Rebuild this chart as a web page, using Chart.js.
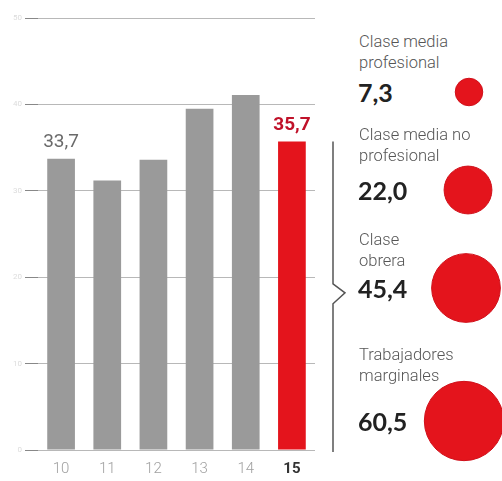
<!DOCTYPE html>
<html>
<head>
<meta charset="utf-8">
<script src="https://cdn.jsdelivr.net/npm/chart.js@4/dist/chart.umd.min.js"></script>
<style>
    html, body { margin: 0; padding: 0; background: #fff; }
    body { width: 502px; height: 481px; position: relative; overflow: hidden; font-family: Roboto, sans-serif; }
    #main { position: absolute; left: 0; top: 0; }
    .label { position: absolute; left: 359px; font-size: 16.5px; font-weight: 300; line-height: 21px; color: #555; white-space: nowrap; }
    .value { position: absolute; left: 358px; font-family: Lato, sans-serif; font-weight: 700; font-size: 25px; line-height: 28px; color: #222; }
    .circle { position: absolute; width: 90px; height: 90px; }
</style>
</head>
<body>
<canvas id="main" width="350" height="481"></canvas>
<div id="panel"></div>
<script>
// Datos
const years = ['10', '11', '12', '13', '14', '15'];
const values = [33.7, 31.2, 33.6, 39.5, 41.1, 35.7];
const shownLabels = [true, false, false, false, false, true];
const yTicks = [0, 10, 20, 30, 40, 50];

const groupNames = [
    ['Clase media', 'profesional'],
    ['Clase media no', 'profesional'],
    ['Clase', 'obrera'],
    ['Trabajadores', 'marginales']
];
const groupValues = [7.3, 22.0, 45.4, 60.5];

// Layout of the right panel (px)
const labelTops = [31, 124, 229, 344];
const circleCenters = [[469, 92], [468, 190], [466, 288], [464, 421]];

const GREY = '#9a9a9a';
const RED = '#e4141c';

function fmt(v) {
    return v.toFixed(1).replace('.', ',');
}

// Value labels + brace
const extras = {
    id: 'extras',
    afterDatasetsDraw(chart) {
        const ctx = chart.ctx;
        const meta = chart.getDatasetMeta(0);
        ctx.save();
        ctx.textAlign = 'center';
        ctx.textBaseline = 'bottom';
        meta.data.forEach((bar, i) => {
            if (!shownLabels[i]) return;
            const last = i === values.length - 1;
            ctx.font = (last ? 'bold ' : '') + '19px Roboto';
            ctx.fillStyle = last ? '#c0122a' : '#6a6a6a';
            ctx.fillText(fmt(values[i]), bar.x, bar.y - 7);
        });

        // brace on the right of the last bar
        const y = chart.scales.y;
        const top = y.getPixelForValue(values[values.length - 1]);
        const bottom = y.getPixelForValue(0) + 2;
        const x = chart.chartArea.right + 18;
        const mid = (top + bottom) / 2 - 4;
        ctx.strokeStyle = '#555';
        ctx.lineWidth = 1.5;
        ctx.beginPath();
        ctx.moveTo(x, top);
        ctx.lineTo(x, mid - 9);
        ctx.lineTo(x + 12, mid);
        ctx.lineTo(x, mid + 11);
        ctx.lineTo(x, bottom);
        ctx.stroke();
        ctx.restore();
    }
};

new Chart(document.getElementById('main'), {
    type: 'bar',
    data: {
        labels: years,
        datasets: [{
            data: values,
            backgroundColor: values.map((v, i) => i === values.length - 1 ? RED : GREY),
            barPercentage: 0.6,
            categoryPercentage: 1.0
        }]
    },
    options: {
        responsive: false,
        animation: false,
        events: [],
        layout: { padding: { top: 18, right: 35, bottom: 4, left: 0 } },
        plugins: {
            legend: { display: false },
            tooltip: { enabled: false }
        },
        scales: {
            x: {
                afterFit: (scale) => { scale.height = 27; },
                grid: { display: false, drawTicks: false },
                border: { display: false },
                ticks: {
                    padding: 10,
                    color: (c) => c.index === years.length - 1 ? '#333' : '#a0a0a0',
                    font: (c) => ({
                        family: 'Roboto',
                        size: 15,
                        weight: c.index === years.length - 1 ? 'bold' : '300'
                    })
                }
            },
            y: {
                min: 0,
                max: 50,
                afterFit: (scale) => { scale.width = 38; },
                afterBuildTicks: (scale) => { scale.ticks = yTicks.map(v => ({ value: v })); },
                grid: {
                    color: '#b8b8b8',
                    tickColor: '#888',
                    tickLength: 13,
                    lineWidth: 1
                },
                border: { display: false },
                ticks: {
                    padding: 3,
                    color: '#dcdcdc',
                    font: { family: 'Roboto', size: 8 }
                }
            }
        }
    },
    plugins: [extras]
});

// Right panel
const panel = document.getElementById('panel');
groupNames.forEach((lines, i) => {
    const lab = document.createElement('div');
    lab.className = 'label';
    lab.style.top = labelTops[i] + 'px';
    lab.innerHTML = lines.join('<br>');
    panel.appendChild(lab);

    const val = document.createElement('div');
    val.className = 'value';
    val.style.top = (circleCenters[i][1] - 14) + 'px';
    val.textContent = fmt(groupValues[i]);
    panel.appendChild(val);

    const cv = document.createElement('canvas');
    cv.className = 'circle';
    cv.width = 90;
    cv.height = 90;
    cv.style.left = (circleCenters[i][0] - 45) + 'px';
    cv.style.top = (circleCenters[i][1] - 45) + 'px';
    panel.appendChild(cv);

    new Chart(cv, {
        type: 'bubble',
        data: {
            datasets: [{
                // area proportional to the value
                data: [{ x: 0, y: 0, r: 5.1 * Math.sqrt(groupValues[i]) }],
                backgroundColor: RED,
                borderColor: '#d0101a',
                borderWidth: 1,
                clip: false
            }]
        },
        options: {
            responsive: false,
            animation: false,
            events: [],
            layout: { padding: 0 },
            plugins: { legend: { display: false }, tooltip: { enabled: false } },
            scales: {
                x: { display: false, min: -1, max: 1 },
                y: { display: false, min: -1, max: 1 }
            }
        }
    });
});
</script>
</body>
</html>
